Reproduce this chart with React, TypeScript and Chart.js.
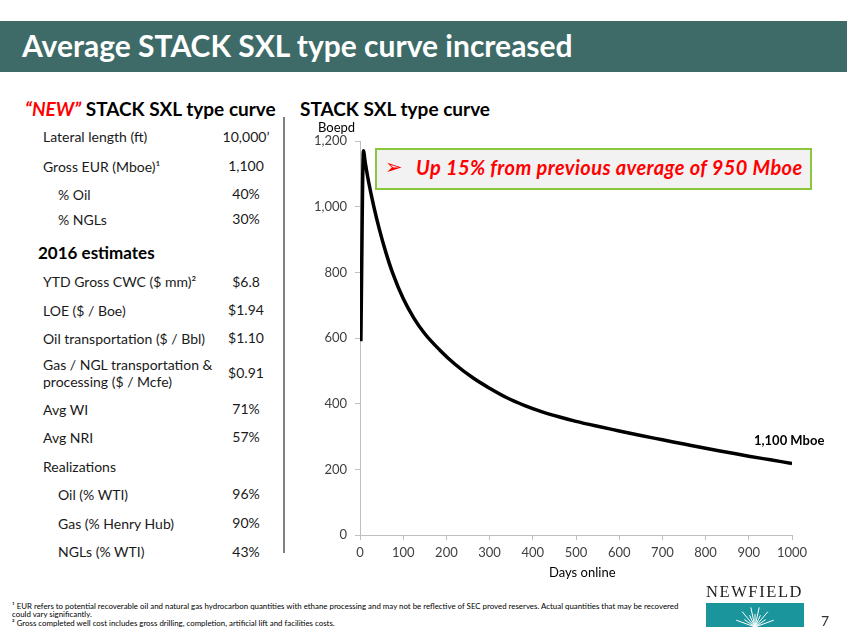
import React, { useEffect, useRef } from "react";
import { Chart, registerables } from "chart.js";

Chart.register(...registerables);

// ---- Data ----
const days = [2, 8, 12, 20, 32, 45, 60, 75, 100, 125, 150, 185, 220, 262, 300, 340, 380, 420, 460, 500, 550, 600, 650, 700, 750, 800, 850, 900, 950, 1000];
const boepd = [590, 1170, 1135, 1075, 1000, 930, 860, 800, 720, 660, 613, 563, 520, 478, 447, 418, 395, 376, 360, 346, 331, 317, 303, 290, 277, 264, 252, 240, 229, 218];
const xMin = 0;
const xMax = 1000;
const xStep = 100;
const yMin = 0;
const yMax = 1200;
const yStep = 200;

const typeCurveLabels = ["Lateral length (ft)", "Gross EUR (Mboe)¹", "% Oil", "% NGLs"];
const typeCurveValues = ["10,000’", "1,100", "40%", "30%"];
const estimateLabels = [
  "YTD Gross CWC ($ mm)²",
  "LOE ($ / Boe)",
  "Oil transportation ($ / Bbl)",
  "Gas / NGL transportation &\nprocessing ($ / Mcfe)",
  "Avg WI",
  "Avg NRI",
  "Realizations",
  "Oil (% WTI)",
  "Gas (% Henry Hub)",
  "NGLs (% WTI)",
];
const estimateValues = ["$6.8", "$1.94", "$1.10", "$0.91", "71%", "57%", "", "96%", "90%", "43%"];

const footnotes = [
  "¹ EUR refers to potential recoverable oil and natural gas hydrocarbon quantities with ethane processing and may not be reflective of SEC proved reserves. Actual quantities that may be recovered",
  "could vary significantly.",
  "² Gross completed well cost includes gross drilling, completion, artificial lift and facilities costs.",
];

// ---- Layout (positions only) ----
const typeCurveRowY = [136.7, 166, 194.3, 219.3];
const typeCurveIndent = [false, false, true, true];
const estimateRowY = [281.7, 310, 338.3, 373.3, 409, 437.3, 466, 494.3, 523.3, 551.7];
const estimateIndent = [false, false, false, false, false, false, false, true, true, true];
const footnoteTop = [603, 611, 620];

const FONT = "Lato, 'Open Sans', sans-serif";

function Row({ label, value, y, indent }: { label: string; value: string; y: number; indent: boolean }) {
  const lines = label.split("\n");
  const h = lines.length * 17;
  return (
    <>
      <div
        style={{
          position: "absolute",
          left: indent ? 58 : 43,
          top: y - h / 2,
          fontFamily: FONT,
          fontSize: 14,
          lineHeight: "17px",
          color: "#1a1a1a",
          whiteSpace: "pre",
        }}
      >
        {label}
      </div>
      {value && (
        <div
          style={{
            position: "absolute",
            left: 196,
            width: 100,
            top: y - 9,
            textAlign: "center",
            fontFamily: FONT,
            fontSize: 14,
            lineHeight: "18px",
            color: "#1a1a1a",
          }}
        >
          {value}
        </div>
      )}
    </>
  );
}

function Logo() {
  const rays = [-70, -55, -40, -25, -12, 0, 12, 25, 40, 55, 70];
  return (
    <svg width={98} height={24} style={{ position: "absolute", left: 706, top: 603 }}>
      <rect x={0} y={0} width={98} height={24} fill="#1a959c" />
      <defs>
        <radialGradient id="glow" cx="50%" cy="100%" r="40%">
          <stop offset="0%" stopColor="#ffffff" stopOpacity={1} />
          <stop offset="100%" stopColor="#ffffff" stopOpacity={0} />
        </radialGradient>
      </defs>
      <ellipse cx={49} cy={24} rx={16} ry={10} fill="url(#glow)" />
      {rays.map((a, i) => {
        const r = (a * Math.PI) / 180;
        const len = i % 2 === 0 ? 20 : 13;
        return (
          <line
            key={i}
            x1={49}
            y1={24}
            x2={49 + Math.sin(r) * len}
            y2={24 - Math.cos(r) * len}
            stroke="#ffffff"
            strokeWidth={1}
          />
        );
      })}
    </svg>
  );
}

export default function App() {
  const canvasRef = useRef<HTMLCanvasElement>(null);

  useEffect(() => {
    const canvas = canvasRef.current;
    if (!canvas) return;
    const chart = new Chart(canvas, {
      type: "line",
      data: {
        datasets: [
          {
            data: days.map((d, i) => ({ x: d, y: boepd[i] })),
            borderColor: "#000000",
            borderWidth: 3.5,
            pointRadius: 0,
            fill: false,
            cubicInterpolationMode: "monotone",
          },
        ],
      },
      options: {
        animation: false,
        responsive: false,
        layout: { padding: { left: 0, right: 38, top: 41, bottom: 0 } },
        plugins: { legend: { display: false }, tooltip: { enabled: false } },
        scales: {
          x: {
            type: "linear",
            min: xMin,
            max: xMax,
            ticks: {
              stepSize: xStep,
              color: "#404040",
              font: { family: FONT, size: 13 },
              padding: 5,
              maxRotation: 0,
              autoSkip: false,
              callback: (v: any) => String(v),
            },
            grid: { drawOnChartArea: false, color: "#bfbfbf", tickLength: 5 },
            border: { color: "#bfbfbf", width: 1 },
            afterFit: (s: any) => {
              s.height = 55;
            },
          },
          y: {
            type: "linear",
            min: yMin,
            max: yMax,
            ticks: {
              stepSize: yStep,
              color: "#404040",
              font: { family: FONT, size: 13 },
              padding: 8,
              callback: (v: any) => Number(v).toLocaleString("en-US"),
            },
            grid: { drawOnChartArea: false, color: "#bfbfbf", tickLength: 5 },
            border: { color: "#bfbfbf", width: 1 },
            afterFit: (s: any) => {
              s.width = 60;
            },
          },
        },
      },
    });
    return () => chart.destroy();
  }, []);

  return (
    <div
      style={{
        position: "absolute",
        left: 0,
        top: 0,
        width: 847,
        height: 635,
        background: "#ffffff",
        overflow: "hidden",
        fontFamily: FONT,
      }}
    >
      {/* Title bar */}
      <div
        style={{
          position: "absolute",
          left: 0,
          top: 21,
          width: 847,
          height: 51,
          background: "#3e6b68",
        }}
      />
      <div
        style={{
          position: "absolute",
          left: 22,
          top: 25,
          fontFamily: FONT,
          fontWeight: 700,
          fontSize: 30,
          lineHeight: "40px",
          color: "#ffffff",
          whiteSpace: "nowrap",
        }}
      >
        Average STACK SXL type curve increased
      </div>

      {/* Left heading */}
      <div
        style={{
          position: "absolute",
          left: 25,
          top: 97,
          fontFamily: FONT,
          fontWeight: 700,
          fontSize: 19,
          lineHeight: "24px",
          whiteSpace: "nowrap",
          color: "#000",
        }}
      >
        <span style={{ color: "#ff0000", fontStyle: "italic" }}>“NEW”</span> STACK SXL type curve
      </div>
      {/* Right heading */}
      <div
        style={{
          position: "absolute",
          left: 300,
          top: 97,
          fontFamily: FONT,
          fontWeight: 700,
          fontSize: 19,
          lineHeight: "24px",
          whiteSpace: "nowrap",
          color: "#000",
        }}
      >
        STACK SXL type curve
      </div>

      {typeCurveLabels.map((l, i) => (
        <Row key={"t" + i} label={l} value={typeCurveValues[i]} y={typeCurveRowY[i]} indent={typeCurveIndent[i]} />
      ))}
      <div
        style={{
          position: "absolute",
          left: 38,
          top: 242,
          fontFamily: FONT,
          fontWeight: 700,
          fontSize: 17,
          lineHeight: "22px",
          color: "#000",
          whiteSpace: "nowrap",
        }}
      >
        2016 estimates
      </div>
      {estimateLabels.map((l, i) => (
        <Row key={"e" + i} label={l} value={estimateValues[i]} y={estimateRowY[i]} indent={estimateIndent[i]} />
      ))}

      {/* Separator */}
      <div
        style={{
          position: "absolute",
          left: 283,
          top: 117,
          width: 2,
          height: 436,
          background: "#808080",
        }}
      />

      {/* Chart */}
      <canvas
        ref={canvasRef}
        width={530}
        height={490}
        style={{ position: "absolute", left: 300, top: 100, width: 530, height: 490 }}
      />

      {/* Axis titles */}
      <div
        style={{
          position: "absolute",
          left: 318,
          top: 118,
          fontFamily: FONT,
          fontSize: 13,
          lineHeight: "18px",
          color: "#000",
        }}
      >
        Boepd
      </div>
      <div
        style={{
          position: "absolute",
          left: 549,
          top: 563,
          fontFamily: FONT,
          fontSize: 13,
          lineHeight: "18px",
          color: "#000",
          whiteSpace: "nowrap",
        }}
      >
        Days online
      </div>

      {/* Callout box */}
      <div
        style={{
          position: "absolute",
          left: 375,
          top: 148,
          width: 433,
          height: 38,
          border: "2px solid #8cc63f",
          background: "#f2f2f2",
        }}
      />
      <div
        style={{
          position: "absolute",
          left: 385,
          top: 155,
          fontFamily: "'DejaVu Sans', sans-serif",
          fontSize: 21,
          lineHeight: "24px",
          color: "#ff0000",
        }}
      >
        ➢
      </div>
      <div
        style={{
          position: "absolute",
          left: 416,
          top: 154,
          fontFamily: FONT,
          fontWeight: 700,
          fontStyle: "italic",
          fontSize: 20,
          lineHeight: "26px",
          letterSpacing: 0.4,
          color: "#ff0000",
          whiteSpace: "nowrap",
        }}
      >
        Up 15% from previous average of 950 Mboe
      </div>

      {/* End label */}
      <div
        style={{
          position: "absolute",
          left: 754,
          top: 431,
          fontFamily: FONT,
          fontWeight: 700,
          fontSize: 13,
          lineHeight: "18px",
          color: "#000",
          whiteSpace: "nowrap",
        }}
      >
        1,100 Mboe
      </div>

      {/* Footnotes */}
      {footnotes.map((t, i) => (
        <div
          key={"f" + i}
          style={{
            position: "absolute",
            left: 12,
            top: footnoteTop[i],
            fontFamily: FONT,
            fontSize: 7.5,
            lineHeight: "8px",
            color: "#000",
            whiteSpace: "nowrap",
            transform: "scaleX(1.05)",
            transformOrigin: "left top",
          }}
        >
          {t}
        </div>
      ))}

      {/* Logo */}
      <div
        style={{
          position: "absolute",
          left: 706,
          top: 582,
          fontFamily: "'Liberation Serif', 'Times New Roman', serif",
          fontSize: 16.5,
          lineHeight: "20px",
          color: "#222",
          whiteSpace: "nowrap",
          letterSpacing: 1.6,
        }}
      >
        NEWFIELD
      </div>
      <Logo />
      <div
        style={{
          position: "absolute",
          left: 821,
          top: 612,
          fontFamily: FONT,
          fontSize: 14,
          lineHeight: "18px",
          color: "#333",
        }}
      >
        7
      </div>
    </div>
  );
}
